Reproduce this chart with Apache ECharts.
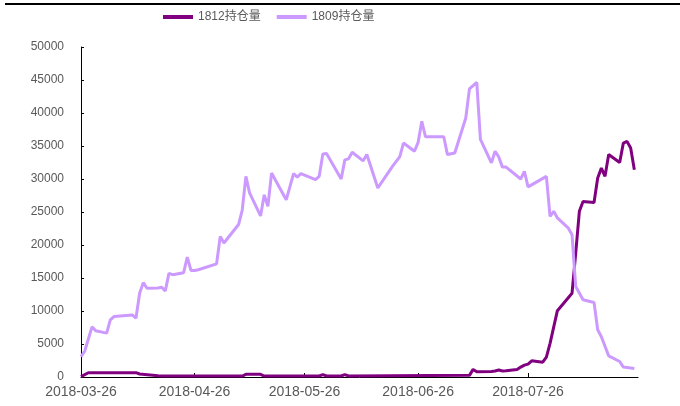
<!DOCTYPE html>
<html>
<head>
<meta charset="utf-8">
<script src="https://cdn.jsdelivr.net/npm/echarts@6/dist/echarts.min.js"></script>
<style>
  html, body { margin: 0; padding: 0; background: #fff; }
  #main { width: 680px; height: 406px; }
</style>
</head>
<body>
<div id="main"></div>
<script>
// 1809 open interest
var dates1809 = [
    '2018-03-26', '2018-03-27', '2018-03-29', '2018-03-30', '2018-04-02', '2018-04-03', '2018-04-04',
    '2018-04-09', '2018-04-10', '2018-04-11', '2018-04-12', '2018-04-13', '2018-04-16', '2018-04-17',
    '2018-04-18', '2018-04-19', '2018-04-20', '2018-04-23', '2018-04-24', '2018-04-25', '2018-04-26',
    '2018-04-27', '2018-05-02', '2018-05-03', '2018-05-04', '2018-05-08', '2018-05-09', '2018-05-10',
    '2018-05-11', '2018-05-14', '2018-05-15', '2018-05-16', '2018-05-17', '2018-05-21', '2018-05-23',
    '2018-05-24', '2018-05-25', '2018-05-29', '2018-05-30', '2018-05-31', '2018-06-01', '2018-06-05',
    '2018-06-06', '2018-06-07', '2018-06-08', '2018-06-11', '2018-06-12', '2018-06-15', '2018-06-19',
    '2018-06-21', '2018-06-22', '2018-06-25', '2018-06-26', '2018-06-27', '2018-06-28', '2018-07-03',
    '2018-07-04', '2018-07-06', '2018-07-09', '2018-07-10', '2018-07-12', '2018-07-13', '2018-07-16',
    '2018-07-17', '2018-07-18', '2018-07-19', '2018-07-20', '2018-07-24', '2018-07-25', '2018-07-26',
    '2018-07-31', '2018-08-01', '2018-08-02', '2018-08-03', '2018-08-06', '2018-08-07', '2018-08-08',
    '2018-08-10', '2018-08-13', '2018-08-14', '2018-08-15', '2018-08-17', '2018-08-20', '2018-08-21',
    '2018-08-24'
];
var oi1809 = [
    3100, 3900, 7600, 7000, 6650, 8650, 9150,
    9400, 8900, 12700, 14300, 13450, 13500, 13600,
    13050, 15700, 15500, 15800, 18150, 16150, 16150,
    16250, 17150, 21300, 20300, 23100, 25300, 30400,
    27900, 24400, 27600, 25850, 30900, 26850, 30800,
    30300, 30800, 29900, 30400, 33800, 33850, 30000,
    32900, 33050, 34050, 32750, 33700, 28650, 31900,
    33400, 35450, 34200, 35550, 38750, 36400, 36400,
    33700, 33950, 39250, 43650, 44650, 36000, 32450,
    34200, 33350, 31800, 31800, 30000, 31150, 28800,
    30400, 24350, 25100, 24100, 22550, 21550, 13700,
    11700, 11300, 7150, 6100, 3200, 2350, 1500,
    1300
];

// 1812 open interest
var dates1812 = [
    '2018-03-26', '2018-03-28', '2018-04-10', '2018-04-11', '2018-04-16', '2018-04-18', '2018-05-09',
    '2018-05-10', '2018-05-14', '2018-05-15', '2018-05-30', '2018-05-31', '2018-06-01', '2018-06-05',
    '2018-06-06', '2018-06-07', '2018-07-10', '2018-07-11', '2018-07-12', '2018-07-16', '2018-07-17',
    '2018-07-18', '2018-07-19', '2018-07-20', '2018-07-23', '2018-07-24', '2018-07-25', '2018-07-26',
    '2018-07-27', '2018-07-30', '2018-07-31', '2018-08-01', '2018-08-03', '2018-08-07', '2018-08-08',
    '2018-08-09', '2018-08-10', '2018-08-13', '2018-08-14', '2018-08-15', '2018-08-16', '2018-08-17',
    '2018-08-20', '2018-08-21', '2018-08-22', '2018-08-23', '2018-08-24'
];
var oi1812 = [
    50, 650, 650, 450, 200, 150, 150,
    400, 400, 150, 150, 350, 150, 150,
    350, 150, 250, 1150, 800, 850, 900,
    1050, 900, 950, 1150, 1500, 1800, 1950,
    2450, 2250, 3000, 5100, 10050, 12700, 18750,
    25100, 26600, 26450, 30150, 31650, 30400, 33700,
    32500, 35450, 35700, 34700, 31400
];

var tickDates = ['2018-03-26', '2018-04-26', '2018-05-26', '2018-06-26', '2018-07-26'];

// dates as day numbers (UTC midnight / 864e5) so a plain value axis can hold them
function toDay(s) {
    return Date.UTC(+s.slice(0, 4), +s.slice(5, 7) - 1, +s.slice(8, 10)) / 864e5;
}
function dayLabel(v) {
    var d = new Date(Math.round(v) * 864e5);
    var mm = ('0' + (d.getUTCMonth() + 1)).slice(-2);
    var dd = ('0' + d.getUTCDate()).slice(-2);
    return d.getUTCFullYear() + '-' + mm + '-' + dd;
}
function pairs(ds, vs) {
    var out = [];
    for (var i = 0; i < ds.length; i++) {
        out.push([toDay(ds[i]), vs[i]]);
    }
    return out;
}
var tickDays = tickDates.map(toDay);

var font = "'Liberation Sans', 'Noto Sans CJK SC', sans-serif";
var myChart = echarts.init(document.getElementById('main'));
var option = {
    animation: false,
    backgroundColor: '#fff',
    textStyle: { fontFamily: font },
    graphic: [{
        type: 'rect',
        left: 5, top: 3,
        shape: { width: 675, height: 2 },
        style: { fill: '#000' }
    }],
    legend: {
        left: 158,
        top: 6,
        icon: 'rect',
        itemWidth: 30,
        itemHeight: 4,
        itemGap: 16,
        textStyle: { color: '#595959', fontSize: 12, fontFamily: font },
        data: ['1812持仓量', '1809持仓量']
    },
    grid: { left: 81, right: 42, top: 47, bottom: 29, containLabel: false },
    xAxis: {
        type: 'value',
        min: toDay('2018-03-26'),
        max: toDay('2018-08-25'),
        splitLine: { show: false },
        axisLine: { lineStyle: { color: '#000', width: 1 } },
        axisTick: { inside: true, length: 4, lineStyle: { color: '#000' }, customValues: tickDays },
        axisLabel: {
            customValues: tickDays,
            color: '#595959',
            fontSize: 14,
            margin: 8,
            formatter: dayLabel
        }
    },
    yAxis: {
        type: 'value',
        min: 0,
        max: 50000,
        interval: 5000,
        splitLine: { show: false },
        axisLine: { show: true, lineStyle: { color: '#000', width: 1 } },
        axisTick: { show: true, inside: true, length: 3, lineStyle: { color: '#000' } },
        axisLabel: {
            color: '#595959',
            fontSize: 12,
            margin: 17,
            formatter: function (v) { return String(v); }
        }
    },
    series: [{
        name: '1812持仓量',
        type: 'line',
        showSymbol: false,
        symbol: 'none',
        color: '#800080',
        lineStyle: { width: 3, color: '#800080' },
        data: pairs(dates1812, oi1812)
    }, {
        name: '1809持仓量',
        type: 'line',
        showSymbol: false,
        symbol: 'none',
        color: '#CC99FF',
        lineStyle: { width: 3, color: '#CC99FF' },
        data: pairs(dates1809, oi1809)
    }]
};
myChart.setOption(option);
</script>
</body>
</html>
